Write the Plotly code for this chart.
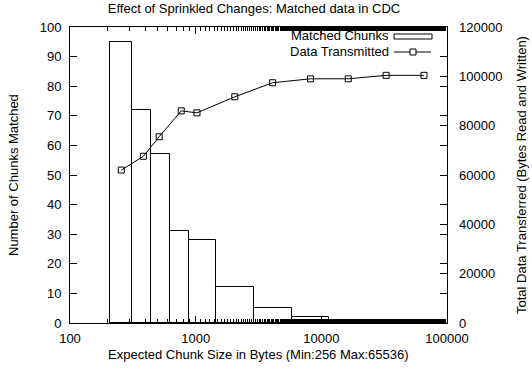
import plotly.graph_objects as go

# ---- data ----
chunk_sizes = [256, 384, 512, 768, 1024, 2048, 4096, 8192, 16384, 32768, 65536]
matched_chunks = [95, 72, 57, 31, 28, 12, 5, 2, 1, 0, 0]
data_transmitted = [62000, 67600, 75500, 86000, 85200, 91700, 97400, 99000, 99000, 100400, 100400]
x_tick_vals = [100, 1000, 10000, 100000]
x_tick_labels = ["100", "1000", "10000", "100000"]
y_tick_vals = list(range(0, 101, 10))
y2_tick_vals = [0, 20000, 40000, 60000, 80000, 100000, 120000]
y2_tick_labels = ["0", "20000", "40000", "60000", "80000", "100000", "120000"]

# box edges half way (in log space) between neighbouring points, as gnuplot boxes
mids = [(chunk_sizes[i] * chunk_sizes[i + 1]) ** 0.5 for i in range(len(chunk_sizes) - 1)]
lefts = [chunk_sizes[0] ** 2 / mids[0]] + mids
rights = mids + [chunk_sizes[-1] ** 2 / mids[-1]]
centers = [(l + r) / 2 for l, r in zip(lefts, rights)]
widths = [r - l for l, r in zip(lefts, rights)]

FONT = "Liberation Sans, Arial, sans-serif"
FS = 13

fig = go.Figure()
fig.add_trace(go.Bar(
    x=centers, y=matched_chunks, width=widths,
    marker=dict(color="white", line=dict(color="black", width=1)),
    showlegend=False, name="Matched Chunks",
))
fig.add_trace(go.Scatter(
    x=chunk_sizes, y=data_transmitted, yaxis="y2",
    mode="lines+markers",
    line=dict(color="black", width=1),
    marker=dict(symbol="square-open", size=6, color="black", line=dict(width=1, color="black")),
    showlegend=False, name="Data Transmitted",
))

L, R, T, B = 70, 85, 27, 48
W, H = 532, 371
PW, PH = W - L - R, H - T - B

def px2x(px):
    return (px - L) / PW

def py2y(py):
    return (H - B - py) / PH

fig.update_layout(
    width=W, height=H,
    margin=dict(l=L, r=R, t=T, b=B),
    paper_bgcolor="white", plot_bgcolor="white",
    font=dict(family=FONT, size=FS, color="black"),
    title=dict(text="Effect of Sprinkled Changes: Matched data in CDC",
               x=254 / W, xanchor="center",
               y=1 - 8 / H, yanchor="middle",
               font=dict(family=FONT, size=FS, color="black")),
    bargap=0,
    xaxis=dict(
        type="log", range=[2, 5],
        tickvals=x_tick_vals, ticktext=x_tick_labels,
        ticks="inside", ticklen=7, tickcolor="black", tickwidth=1,
        minor=dict(ticks="inside", ticklen=4, tickcolor="black", tickwidth=1, showgrid=False),
        showline=True, linecolor="black", linewidth=1, mirror="ticks",
        showgrid=False, zeroline=False,
        ticklabelstandoff=3,
    ),
    yaxis=dict(
        range=[0, 100], tickvals=y_tick_vals,
        ticks="inside", ticklen=7, tickcolor="black", tickwidth=1,
        showline=True, linecolor="black", linewidth=1, mirror="ticks",
        showgrid=False, zeroline=False,
        ticklabelstandoff=5,
    ),
    yaxis2=dict(
        range=[0, 120000], tickvals=y2_tick_vals, ticktext=y2_tick_labels,
        overlaying="y", side="right",
        ticks="inside", ticklen=7, tickcolor="black", tickwidth=1,
        showline=False, showgrid=False, zeroline=False,
        ticklabelstandoff=11,
    ),
    annotations=[
        dict(text="Number of Chunks Matched", xref="paper", yref="paper",
             x=px2x(13), y=0.5, xanchor="center", yanchor="middle",
             textangle=-90, showarrow=False),
        dict(text="Total Data Transferred (Bytes Read and Written)", xref="paper", yref="paper",
             x=px2x(521), y=0.5, xanchor="center", yanchor="middle",
             textangle=-90, showarrow=False),
        dict(text="Expected Chunk Size in Bytes (Min:256 Max:65536)", xref="paper", yref="paper",
             x=px2x(258), y=py2y(354), xanchor="center", yanchor="middle", showarrow=False),
        dict(text="Matched Chunks", xref="paper", yref="paper", borderpad=0,
             x=px2x(390), y=py2y(36), xanchor="right", yanchor="middle", showarrow=False),
        dict(text="Data Transmitted", xref="paper", yref="paper", borderpad=0,
             x=px2x(390), y=py2y(52), xanchor="right", yanchor="middle", showarrow=False),
    ],
    shapes=[
        dict(type="rect", xref="paper", yref="paper",
             x0=px2x(394), x1=px2x(432), y0=py2y(39), y1=py2y(34),
             line=dict(color="black", width=1), fillcolor="white"),
        dict(type="line", xref="paper", yref="paper",
             x0=px2x(394), x1=px2x(431), y0=py2y(52), y1=py2y(52),
             line=dict(color="black", width=1)),
        dict(type="rect", xref="paper", yref="paper",
             x0=px2x(410), x1=px2x(416), y0=py2y(55), y1=py2y(49),
             line=dict(color="black", width=1), fillcolor="white"),
    ],
)

fig.write_html("out.html")
